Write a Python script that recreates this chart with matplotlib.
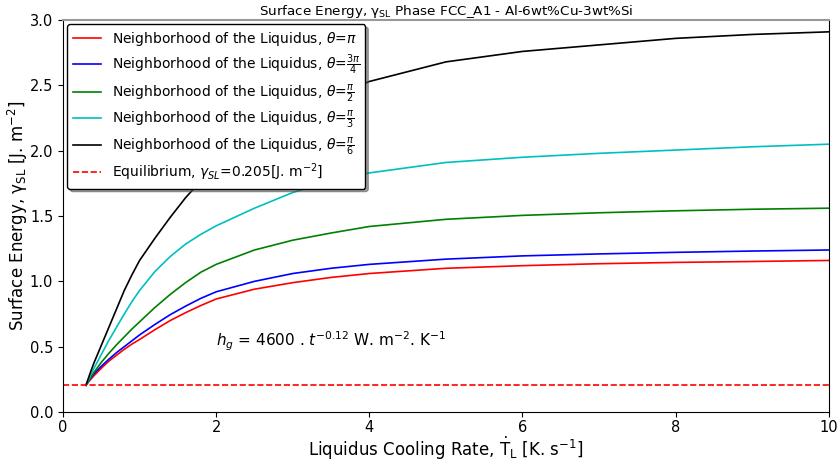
import matplotlib
matplotlib.use("Agg")
import matplotlib.pyplot as plt

cooling_rate = [0.3, 0.35, 0.4, 0.5, 0.6, 0.7, 0.8, 0.9, 1.0, 1.2, 1.4, 1.6, 1.8, 2.0,
                2.5, 3.0, 3.5, 4.0, 5.0, 6.0, 7.0, 8.0, 9.0, 10.0]

gamma_pi = [0.205, 0.243, 0.275, 0.335, 0.39, 0.435, 0.48, 0.52, 0.555, 0.63, 0.70, 0.76,
            0.815, 0.865, 0.94, 0.99, 1.03, 1.06, 1.10, 1.12, 1.135, 1.145, 1.152, 1.16]
gamma_3pi4 = [0.205, 0.25, 0.29, 0.35, 0.405, 0.455, 0.50, 0.545, 0.59, 0.67, 0.745, 0.81,
              0.87, 0.92, 1.00, 1.06, 1.10, 1.13, 1.17, 1.195, 1.21, 1.222, 1.232, 1.24]
gamma_pi2 = [0.205, 0.255, 0.30, 0.38, 0.45, 0.515, 0.575, 0.635, 0.69, 0.80, 0.90, 0.99,
             1.07, 1.13, 1.24, 1.315, 1.37, 1.42, 1.475, 1.505, 1.525, 1.54, 1.552, 1.56]
gamma_pi3 = [0.205, 0.27, 0.33, 0.44, 0.55, 0.65, 0.75, 0.845, 0.93, 1.075, 1.19, 1.285,
             1.36, 1.425, 1.56, 1.68, 1.77, 1.83, 1.91, 1.95, 1.98, 2.005, 2.03, 2.05]
gamma_pi6 = [0.205, 0.29, 0.37, 0.51, 0.65, 0.79, 0.93, 1.05, 1.16, 1.33, 1.49, 1.64,
             1.77, 1.88, 2.09, 2.26, 2.41, 2.53, 2.68, 2.76, 2.81, 2.86, 2.89, 2.91]

gamma_eq = 0.205

series = [
    (gamma_pi, 'red', r'Neighborhood of the Liquidus, $\theta$=$\pi$'),
    (gamma_3pi4, 'blue', r'Neighborhood of the Liquidus, $\theta$=$\frac{3\pi}{4}$'),
    (gamma_pi2, 'green', r'Neighborhood of the Liquidus, $\theta$=$\frac{\pi}{2}$'),
    (gamma_pi3, 'c', r'Neighborhood of the Liquidus, $\theta$=$\frac{\pi}{3}$'),
    (gamma_pi6, 'black', r'Neighborhood of the Liquidus, $\theta$=$\frac{\pi}{6}$'),
]

fig = plt.figure(figsize=(8.38, 4.67), dpi=100)
ax = fig.add_axes([0.0752, 0.1178, 0.9138, 0.8392])

for vals, col, lab in series:
    ax.plot(cooling_rate, vals, color=col, lw=1.2, label=lab)

ax.axhline(gamma_eq, color='red', ls='--', lw=1.2,
           label=r'Equilibrium, $\gamma_{SL}$=0.205[J. m$^{-2}$]')

ax.set_xlim(0, 10)
ax.set_ylim(0, 3.0)
ax.set_xticks([0, 2, 4, 6, 8, 10])
ax.set_yticks([0.0, 0.5, 1.0, 1.5, 2.0, 2.5, 3.0])
ax.tick_params(labelsize=10.5)
ax.tick_params(axis='x', pad=2)

ax.set_title(r'Surface Energy, $\mathregular{\gamma_{SL}}$ Phase FCC_A1 - Al-6wt%Cu-3wt%Si', fontsize=9.7, pad=4)
ax.set_xlabel(r'Liquidus Cooling Rate, $\dot{\mathrm{T}}_{\mathrm{L}}$ [K. s$^{-1}$]', fontsize=12, labelpad=0)
ax.set_ylabel(r'Surface Energy, $\mathregular{\gamma_{SL}}$ [J. m$^{-2}$]', fontsize=12, labelpad=0)

ax.text(2.0, 0.54, r'$h_g$ = 4600 . $t^{-0.12}$ W. m$^{-2}$. K$^{-1}$',
        fontsize=11, va='center', ha='left')

ax.legend(loc='upper left', fontsize=10, shadow=True, framealpha=1,
          edgecolor='black', fancybox=True, labelspacing=0.35,
          borderaxespad=0.3, handletextpad=0.8)

ax.spines['top'].set_color('#999999')
ax.spines['top'].set_linewidth(1.5)

fig.savefig('out.png', dpi=100)
